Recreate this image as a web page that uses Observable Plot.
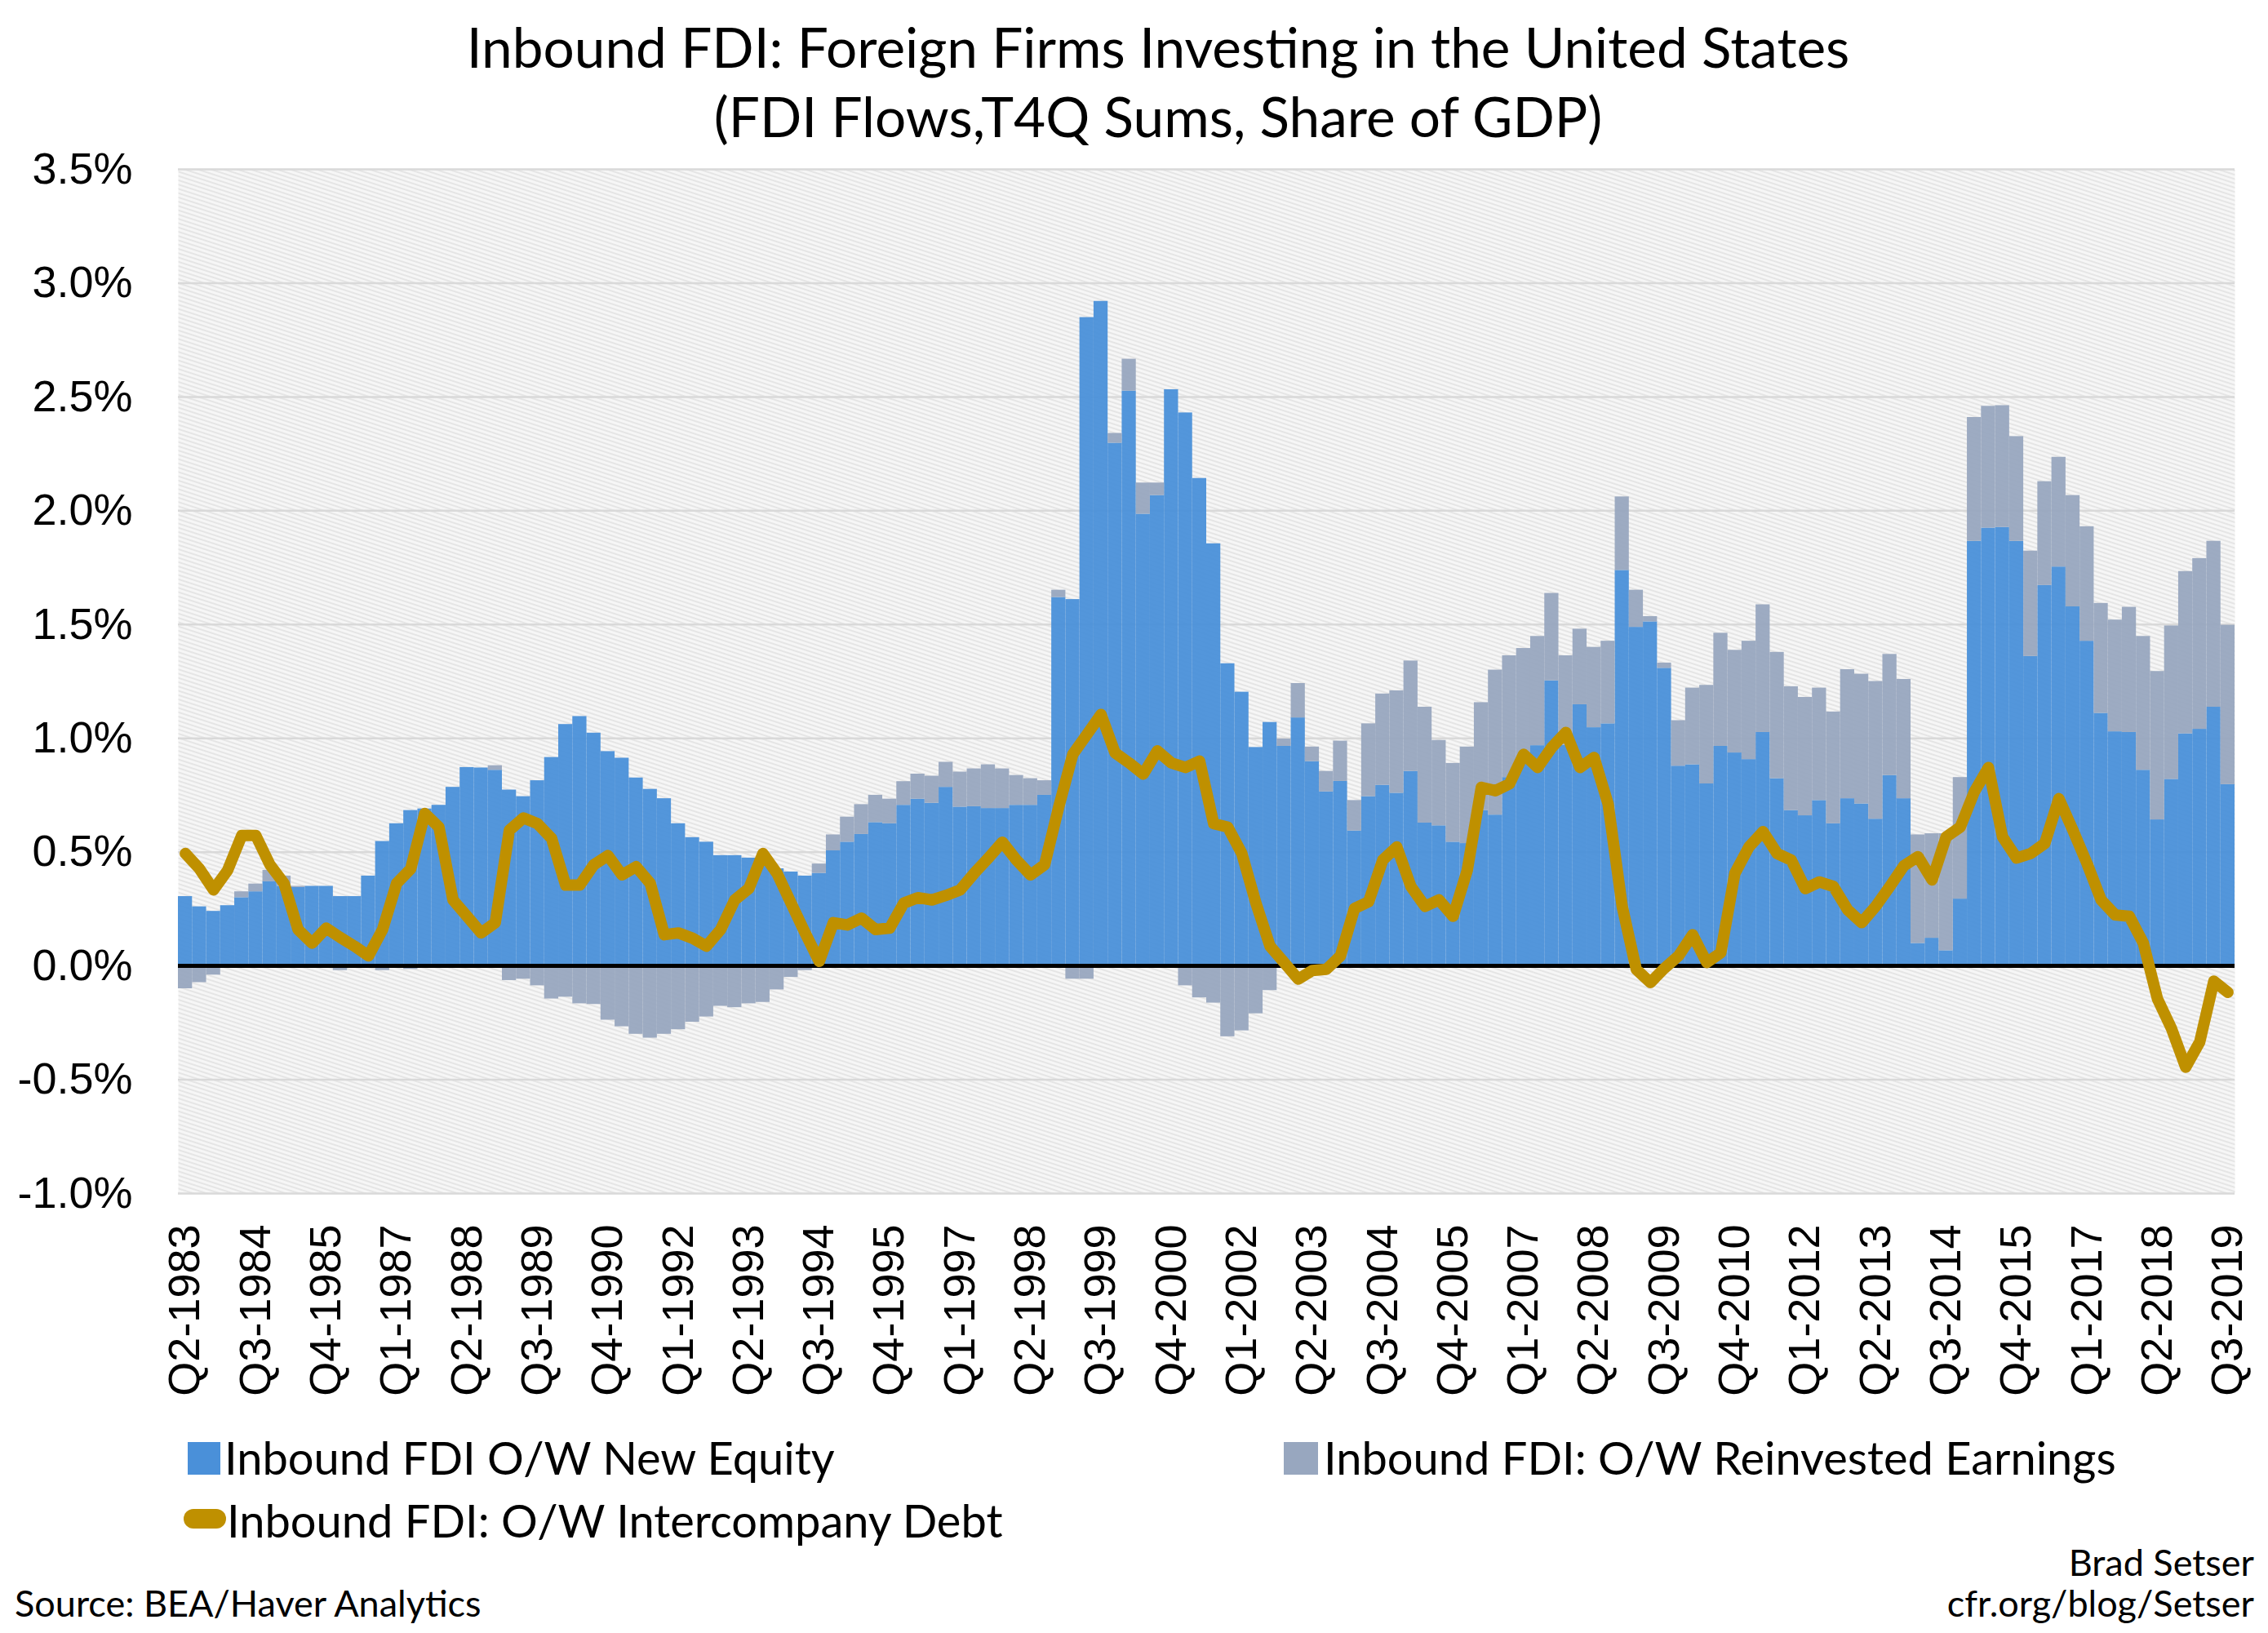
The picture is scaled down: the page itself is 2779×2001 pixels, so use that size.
<!DOCTYPE html>
<html>
<head>
<meta charset="utf-8">
<script src="https://cdn.jsdelivr.net/npm/d3@7"></script>
<script src="https://cdn.jsdelivr.net/npm/@observablehq/plot@0.6"></script>
<style>
  html, body { margin: 0; padding: 0; background: #fff; }
  #page { position: relative; width: 2779px; height: 2001px; overflow: hidden; background: #fff; font-family: Lato, "Noto Sans", sans-serif; color: #000; }
  .t { position: absolute; white-space: nowrap; line-height: 1.2; }
  .title { left: 1419px; transform: translateX(-50%); font-size: 67.5px; }
  .leg { font-size: 56px; }
  .sw { position: absolute; }
  .small { font-size: 45px; }
  #chart { position: absolute; left: 0; top: 180px; }
</style>
</head>
<body>
<div id="page">
  <div class="t title" style="top:16px">Inbound FDI: Foreign Firms Investing in the United States</div>
  <div class="t title" style="top:101px">(FDI Flows,T4Q Sums, Share of GDP)</div>
  <div id="chart"></div>
  <div class="sw" style="left:230px;top:1767px;width:40px;height:40px;background:#4a90d9"></div>
  <div class="t leg" style="left:275px;top:1752px">Inbound FDI O/W New Equity</div>
  <div class="sw" style="left:1573px;top:1767px;width:42px;height:40px;background:#98a7bf"></div>
  <div class="t leg" style="left:1622px;top:1752px">Inbound FDI: O/W Reinvested Earnings</div>
  <div class="sw" style="left:225px;top:1849px;width:52px;height:24px;border-radius:12px;background:#bf9000"></div>
  <div class="t leg" style="left:278px;top:1829px">Inbound FDI: O/W Intercompany Debt</div>
  <div class="t small" style="left:18px;top:1937px">Source: BEA/Haver Analytics</div>
  <div class="t small" style="right:17px;top:1887px;text-align:right">Brad Setser</div>
  <div class="t small" style="right:17px;top:1937px;text-align:right">cfr.org/blog/Setser</div>
</div>
<script>
// Categories: quarters Q2-1983 ... Q3-2019
const quarters = [];
{ let y = 1983, q = 2; while (quarters.length < 146) { quarters.push("Q" + q + "-" + y); q++; if (q > 4) { q = 1; y++; } } }

const tickLabels = ["Q2-1983","Q3-1984","Q4-1985","Q1-1987","Q2-1988","Q3-1989","Q4-1990","Q1-1992","Q2-1993","Q3-1994",
  "Q4-1995","Q1-1997","Q2-1998","Q3-1999","Q4-2000","Q1-2002","Q2-2003","Q3-2004","Q4-2005","Q1-2007",
  "Q2-2008","Q3-2009","Q4-2010","Q1-2012","Q2-2013","Q3-2014","Q4-2015","Q1-2017","Q2-2018","Q3-2019"];

const yTicks = [-1.0, -0.5, 0.0, 0.5, 1.0, 1.5, 2.0, 2.5, 3.0, 3.5];

// Inbound FDI O/W New Equity (% of GDP)
const newEquity = [
  0.305,0.26,0.24,0.265,0.30,0.326,0.37,0.35,0.345,0.35,
  0.35,0.305,0.305,0.395,0.547,0.625,0.683,0.69,0.706,0.785,
  0.872,0.87,0.86,0.773,0.744,0.814,0.916,1.061,1.096,1.023,
  0.942,0.913,0.826,0.776,0.735,0.625,0.564,0.544,0.485,0.485,
  0.474,0.47,0.427,0.413,0.395,0.407,0.506,0.544,0.578,0.63,
  0.625,0.706,0.733,0.715,0.785,0.698,0.70,0.692,0.692,0.706,
  0.706,0.75,1.619,1.61,2.849,2.92,2.297,2.526,1.985,2.067,
  2.532,2.43,2.142,1.855,1.328,1.203,0.96,1.07,0.965,1.09,
  0.898,0.765,0.811,0.593,0.744,0.794,0.759,0.855,0.628,0.616,
  0.544,0.538,0.683,0.663,0.828,0.916,0.968,1.253,0.97,1.148,
  1.047,1.064,1.738,1.488,1.512,1.308,0.878,0.884,0.80,0.965,
  0.936,0.907,1.026,0.823,0.683,0.66,0.727,0.625,0.735,0.712,
  0.645,0.837,0.735,0.099,0.122,0.067,0.294,1.866,1.924,1.927,
  1.866,1.36,1.672,1.753,1.578,1.427,1.11,1.029,1.026,0.86,
  0.642,0.82,1.02,1.04,1.137,0.797
];

// Inbound FDI: O/W Reinvested Earnings (% of GDP)
const reinvestedEarnings = [
  -0.10,-0.073,-0.04,-0.01,0.026,0.034,0.05,0.045,0.005,0.0,
  0.0,-0.02,0.0,0.0,-0.02,0.0,-0.015,0.0,0.0,0.0,
  0.0,0.0,0.02,-0.064,-0.058,-0.087,-0.145,-0.137,-0.166,-0.169,
  -0.238,-0.267,-0.30,-0.317,-0.30,-0.28,-0.247,-0.224,-0.177,-0.183,
  -0.166,-0.16,-0.105,-0.05,-0.02,0.041,0.07,0.11,0.131,0.12,
  0.108,0.104,0.11,0.119,0.11,0.154,0.166,0.192,0.174,0.131,
  0.117,0.064,0.032,-0.058,-0.058,0.0,0.043,0.14,0.137,0.055,
  0.0,-0.087,-0.14,-0.163,-0.311,-0.285,-0.21,-0.108,0.032,0.151,
  0.064,0.09,0.177,0.134,0.32,0.401,0.45,0.485,0.509,0.375,
  0.346,0.424,0.474,0.637,0.535,0.479,0.48,0.384,0.393,0.332,
  0.353,0.363,0.323,0.163,0.023,0.023,0.20,0.337,0.433,0.497,
  0.451,0.52,0.561,0.555,0.544,0.52,0.494,0.491,0.567,0.57,
  0.605,0.532,0.524,0.477,0.459,0.514,0.534,0.544,0.535,0.535,
  0.46,0.463,0.456,0.482,0.489,0.503,0.483,0.491,0.55,0.588,
  0.652,0.674,0.713,0.75,0.729,0.70
];

// Inbound FDI: O/W Intercompany Debt (% of GDP)
const intercompanyDebt = [
  0.494,0.427,0.334,0.42,0.573,0.573,0.445,0.363,0.16,0.10,
  0.166,0.125,0.087,0.044,0.16,0.363,0.427,0.67,0.61,0.29,
  0.218,0.145,0.19,0.596,0.65,0.625,0.56,0.355,0.355,0.445,
  0.485,0.40,0.436,0.363,0.137,0.145,0.122,0.087,0.16,0.29,
  0.34,0.494,0.407,0.276,0.145,0.02,0.19,0.18,0.21,0.16,
  0.166,0.276,0.30,0.29,0.31,0.334,0.407,0.474,0.544,0.465,
  0.40,0.445,0.698,0.93,1.017,1.105,0.936,0.892,0.843,0.945,
  0.892,0.872,0.90,0.625,0.61,0.494,0.276,0.087,0.015,-0.058,
  -0.02,-0.015,0.044,0.253,0.282,0.465,0.523,0.349,0.262,0.29,
  0.218,0.42,0.785,0.77,0.80,0.93,0.872,0.96,1.026,0.872,
  0.916,0.712,0.262,-0.015,-0.073,-0.01,0.044,0.137,0.015,0.058,
  0.407,0.523,0.59,0.494,0.465,0.34,0.369,0.349,0.247,0.19,
  0.262,0.349,0.44,0.48,0.378,0.567,0.61,0.765,0.872,0.567,
  0.474,0.494,0.538,0.735,0.596,0.45,0.29,0.224,0.218,0.10,
  -0.145,-0.276,-0.445,-0.334,-0.067,-0.116
];

const seriesNames = ["Inbound FDI O/W New Equity", "Inbound FDI: O/W Reinvested Earnings"];
const barRows = [];
quarters.forEach((q, i) => barRows.push({q, series: seriesNames[0], value: newEquity[i]}));
quarters.forEach((q, i) => barRows.push({q, series: seriesNames[1], value: reinvestedEarnings[i]}));
const lineRows = quarters.map((q, i) => ({q, value: intercompanyDebt[i]}));

try {
  const chart = Plot.plot({
    width: 2779,
    height: 1560,
    marginTop: 27,
    marginBottom: 278,
    marginLeft: 218,
    marginRight: 41,
    style: {fontFamily: "'Liberation Sans', Arial, sans-serif", fontSize: "54px", background: "transparent", color: "#000", overflow: "visible"},
    x: {type: "band", domain: quarters, padding: 0, axis: null},
    y: {domain: [-1, 3.5], axis: null},
    color: {domain: seriesNames, range: ["#4a90d9", "#98a7bf"]},
    marks: [
      Plot.frame({fill: "url(#hatch)", stroke: "none"}),
      Plot.ruleY(yTicks, {stroke: "#d9d9d9", strokeWidth: 2.5}),
      Plot.barY(barRows, Plot.stackY({x: "q", y: "value", fill: "series", fillOpacity: 0.95})),
      Plot.ruleY([0], {stroke: "#000", strokeWidth: 5}),
      Plot.line(lineRows, {x: "q", y: "value", stroke: "#bf9000", strokeWidth: 14, strokeLinejoin: "round", strokeLinecap: "round"}),
      Plot.axisY({ticks: yTicks, tickSize: 0, tickPadding: 56, tickFormat: d => d.toFixed(1) + "%", fontSize: 54, label: null}),
      Plot.axisX({ticks: tickLabels, tickSize: 0, tickRotate: -90, tickPadding: 38, fontSize: 54, label: null})
    ]
  });
  const ns = "http://www.w3.org/2000/svg";
  const defs = document.createElementNS(ns, "defs");
  defs.innerHTML = '<pattern id="hatch" patternUnits="userSpaceOnUse" width="8" height="5" patternTransform="rotate(18)">' +
    '<rect width="8" height="5" fill="#f6f6f6"></rect>' +
    '<line x1="0" y1="1" x2="8" y2="1" stroke="#e0e0e0" stroke-width="1.5"></line></pattern>';
  chart.insertBefore(defs, chart.firstChild);
  document.getElementById("chart").appendChild(chart);
} catch (e) {
  document.getElementById("chart").textContent = "Error: " + e.message;
}
</script>
</body>
</html>
